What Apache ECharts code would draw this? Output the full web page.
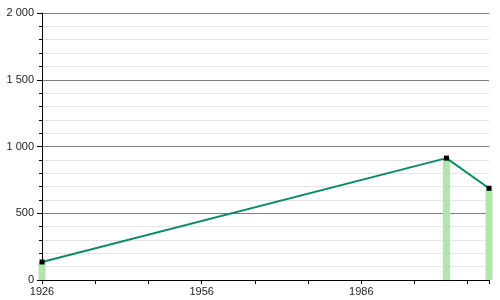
<!DOCTYPE html>
<html><head><meta charset="utf-8">
<script src="https://cdn.jsdelivr.net/npm/echarts@6/dist/echarts.min.js"></script>
<style>html,body{margin:0;padding:0;background:#fff}#c{width:500px;height:300px}</style>
</head><body><div id="c"></div>
<script>
const years = [1926, 2002, 2010];
const population = [135, 913, 687];
const xLabelYears = [1926, 1956, 1986];

function fmtY(v){ return String(v).replace(/\B(?=(\d{3})+(?!\d))/g, ' '); }

const chart = echarts.init(document.getElementById('c'));
chart.setOption({
  animation: false,
  grid: {left: 42, right: 11, top: 13, bottom: 20},
  xAxis: {
    type: 'value', min: 1926, max: 2010, interval: 10,
    axisLine: {show: true, lineStyle: {color: '#000', width: 1}},
    axisTick: {show: true, length: 4, lineStyle: {color: '#000'}},
    splitLine: {show: false},
    axisLabel: {
      color: '#222', fontSize: 11, fontFamily: 'Liberation Sans, Arial, sans-serif', margin: 6,
      formatter: v => xLabelYears.includes(v) ? String(v) : ''
    }
  },
  yAxis: {
    type: 'value', min: 0, max: 2000, interval: 500,
    axisLine: {show: true, lineStyle: {color: '#000', width: 1}},
    axisTick: {show: true, length: 5, lineStyle: {color: '#000'}},
    minorTick: {show: true, splitNumber: 5, length: 3, lineStyle: {color: '#000'}},
    splitLine: {show: true, lineStyle: {color: '#7f7f7f', width: 1}},
    minorSplitLine: {show: true, lineStyle: {color: '#e4e4e4', width: 1}},
    axisLabel: {color: '#222', fontSize: 11, fontFamily: 'Liberation Sans, Arial, sans-serif', margin: 8, formatter: fmtY}
  },
  series: [
    {
      type: 'bar', data: years.map((y, i) => [y, population[i]]),
      barWidth: 7, clip: false, itemStyle: {color: '#b0e5ab'}, z: 1
    },
    {
      type: 'line', data: years.map((y, i) => [y, population[i]]),
      symbol: 'rect', symbolSize: 5, showSymbol: true,
      lineStyle: {color: '#0a8a68', width: 2},
      itemStyle: {color: '#000'}, z: 3
    }
  ]
});
</script></body></html>
